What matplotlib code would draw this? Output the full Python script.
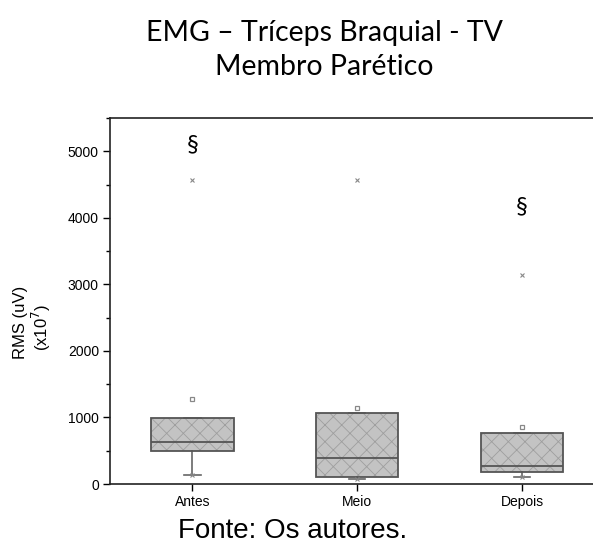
import matplotlib.pyplot as plt
from matplotlib.patches import PathPatch
from matplotlib.ticker import MultipleLocator

categories = ["Antes", "Meio", "Depois"]
q1 = [500, 100, 180]
medians = [626, 395, 266]
q3 = [985, 1071, 761]
whis_low = [130, 80, 110]
whis_high = [985, 1071, 761]
means = [1276, 1137, 856]
maxima = [4565, 4575, 3145]
signif = ["§", None, "§"]
signif_y = [5100, None, 4170]

plt.rcParams['font.family'] = ['Liberation Sans', 'DejaVu Sans']
plt.rcParams['hatch.linewidth'] = 0.6

fig = plt.figure(figsize=(5.93, 5.45), dpi=100)
ax = fig.add_axes([110 / 593, 61 / 545, 494.5 / 593, 366 / 545])

positions = list(range(1, len(categories) + 1))
stats = []
for i, name in enumerate(categories):
    stats.append({"label": name, "q1": q1[i], "med": medians[i], "q3": q3[i],
                  "whislo": whis_low[i], "whishi": whis_high[i], "fliers": []})

bp = ax.bxp(stats, positions=positions, widths=0.5, patch_artist=True,
            showcaps=True, showfliers=False,
            boxprops=dict(facecolor="#c3c3c3", edgecolor="#9e9e9e", linewidth=0, hatch="xx"),
            medianprops=dict(color="#555555", linewidth=1.3),
            whiskerprops=dict(color="#666666", linewidth=1.2),
            capprops=dict(color="#666666", linewidth=1.2))
for box in bp["boxes"]:
    outline = PathPatch(box.get_path(), facecolor="none", edgecolor="#555555", linewidth=1.3, zorder=3)
    ax.add_patch(outline)
for cap in bp["caps"]:
    x0, x1 = cap.get_xdata()
    mid = (x0 + x1) / 2
    cap.set_xdata([mid - 0.05, mid + 0.05])

# mean (square) and extremes (x)
ax.plot(positions, means, "s", mfc="white", mec="#888888", ms=3.5, mew=0.9, zorder=4)
ax.plot(positions, maxima, "x", color="#888888", ms=3.5, mew=0.8, zorder=4)
ax.plot(positions, whis_low, "x", color="#888888", ms=3.5, mew=0.8, zorder=4)

for i, s in enumerate(signif):
    if s:
        ax.text(positions[i], signif_y[i], s, ha="center", va="center", fontsize=17,
                family=["Lato", "DejaVu Sans"])

ax.set_xlim(0.5, 3.5)
ax.set_ylim(0, 5500)
ax.set_xticks(positions)
ax.set_xticklabels(categories)
ax.yaxis.set_major_locator(MultipleLocator(1000))
ax.yaxis.set_minor_locator(MultipleLocator(500))
ax.tick_params(axis="both", which="major", direction="out", length=5, width=1, labelsize=10, pad=3)
ax.tick_params(axis="y", which="minor", direction="out", length=3, width=1)
for sp in ax.spines.values():
    sp.set_linewidth(1.2)
    sp.set_color("#222222")

fig.text(21 / 593, 1 - 322 / 545, "RMS (uV)", rotation=90, ha="center", va="center", fontsize=12)
fig.text(41 / 593, 1 - 328 / 545, "(x10$^7$)", rotation=90, ha="center", va="center", fontsize=12)

fig.text(324 / 593, 1 - 33 / 545, "EMG – Tríceps Braquial - TV", ha="center", va="center",
         fontsize=20.5, family=["Lato", "DejaVu Sans"])
fig.text(324 / 593, 1 - 67 / 545, "Membro Parético", ha="center", va="center",
         fontsize=20.5, family=["Lato", "DejaVu Sans"])
fig.text(293 / 593, 1 - 531 / 545, "Fonte: Os autores.", ha="center", va="center", fontsize=20)

fig.savefig("out.png", dpi=100)
